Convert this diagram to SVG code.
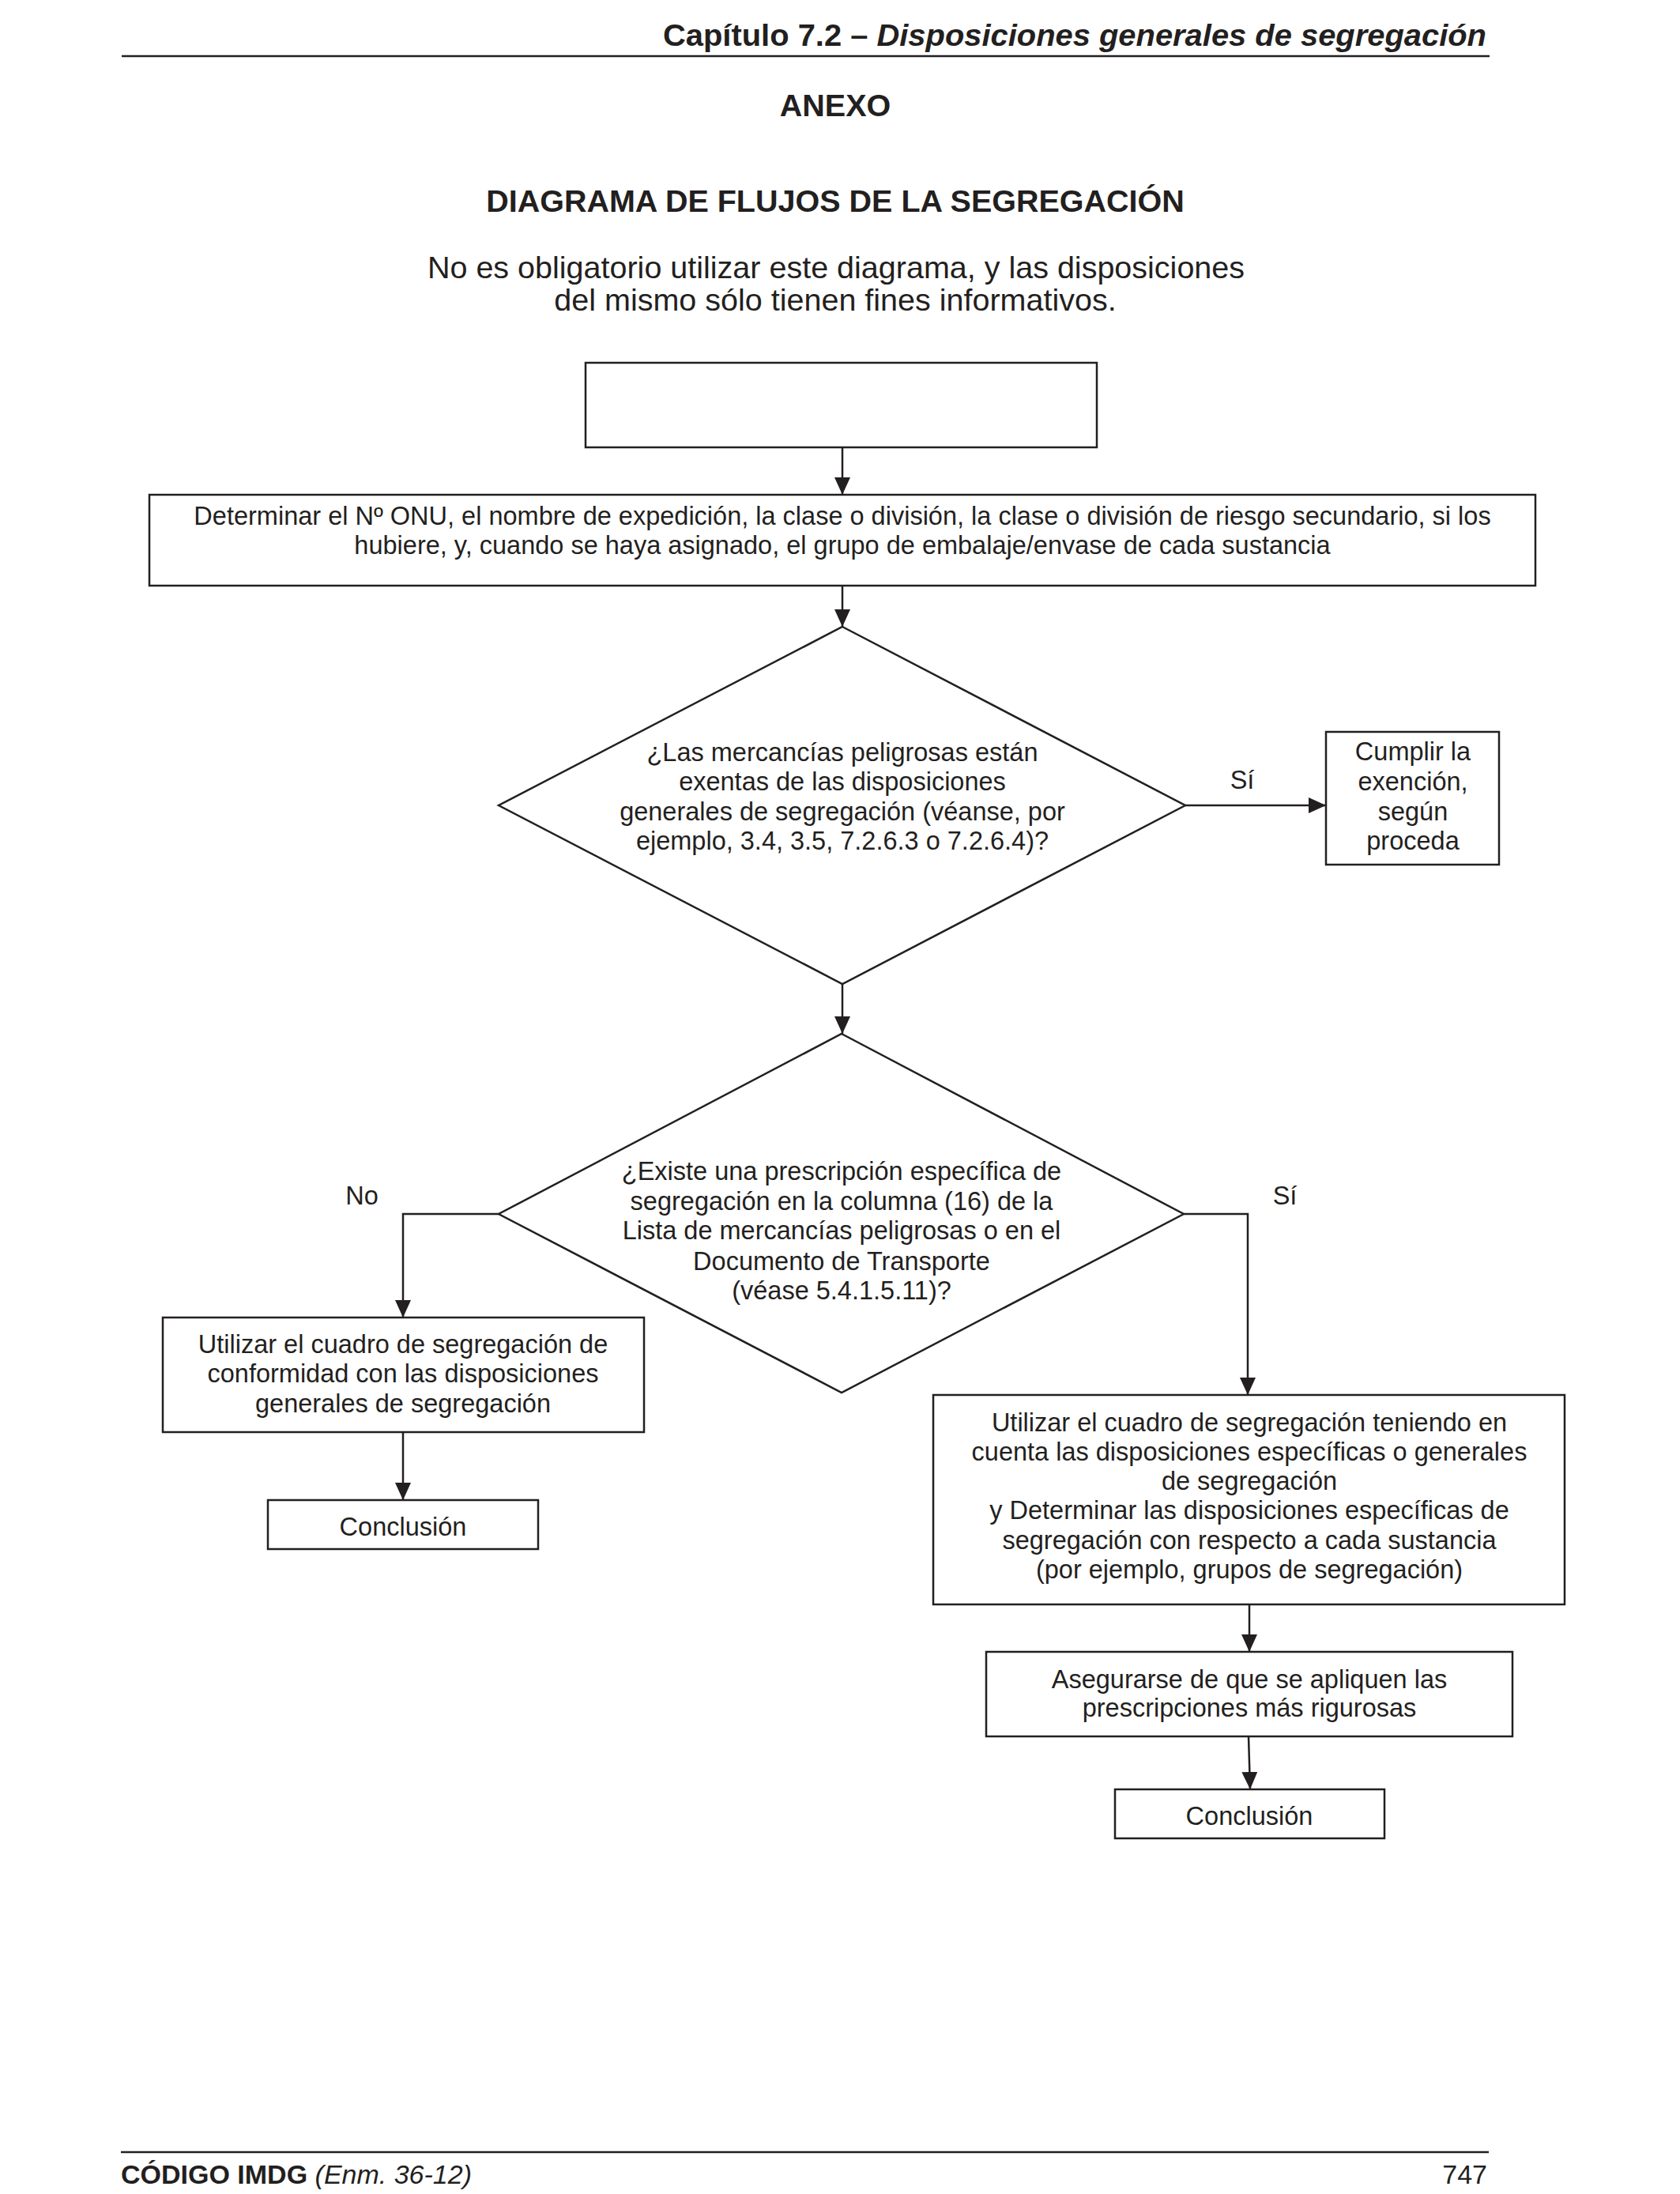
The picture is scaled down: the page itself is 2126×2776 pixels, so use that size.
<svg xmlns="http://www.w3.org/2000/svg" width="2126" height="2776" viewBox="0 0 2126 2776">
<style>
  text { font-family: "Liberation Sans", Arial, sans-serif; fill: #231f20; }
  .t { font-size: 32.5px; text-anchor: middle; }
  .box { fill: #ffffff; stroke: #231f20; stroke-width: 2.5; }
  .conn { fill: none; stroke: #231f20; stroke-width: 2.5; }
  .rule { stroke: #231f20; stroke-width: 2.5; }
  .h { font-weight: bold; text-anchor: middle; font-size: 39.5px; }
</style>
<defs>
  <marker id="ah" markerWidth="22" markerHeight="20" refX="22" refY="10" orient="auto" markerUnits="userSpaceOnUse">
    <path d="M0,0 L22,10 L0,20 z" fill="#231f20"/>
  </marker>
</defs>
<rect width="2126" height="2776" fill="#ffffff"/>

<g id="header">
  <text x="1881" y="58" font-size="38" font-weight="bold" text-anchor="end" textLength="1042" lengthAdjust="spacingAndGlyphs">Capítulo 7.2 – <tspan font-style="italic">Disposiciones generales de segregación</tspan></text>
  <line class="rule" x1="154" y1="71" x2="1885" y2="71"/>
  <text class="h" x="1057" y="147">ANEXO</text>
  <text class="h" x="1057" y="268">DIAGRAMA DE FLUJOS DE LA SEGREGACIÓN</text>
  <text x="1058" y="352" font-size="39.5" text-anchor="middle">No es obligatorio utilizar este diagrama, y las disposiciones</text>
  <text x="1057" y="393" font-size="39.5" text-anchor="middle">del mismo sólo tienen fines informativos.</text>
</g>

<g id="connectors">
  <line class="conn" x1="1066" y1="566" x2="1066" y2="626" marker-end="url(#ah)"/>
  <line class="conn" x1="1066" y1="741" x2="1066" y2="793" marker-end="url(#ah)"/>
  <line class="conn" x1="1500" y1="1019" x2="1678" y2="1019" stroke-width="4" marker-end="url(#ah)"/>
  <line class="conn" x1="1066" y1="1245" x2="1066" y2="1308" marker-end="url(#ah)"/>
  <polyline class="conn" points="631,1536 510,1536 510,1667" marker-end="url(#ah)"/>
  <polyline class="conn" points="1498,1536 1579,1536 1579,1765" marker-end="url(#ah)"/>
  <line class="conn" x1="510" y1="1812" x2="510" y2="1898" stroke-width="3.5" marker-end="url(#ah)"/>
  <line class="conn" x1="1581" y1="2030" x2="1581" y2="2090" stroke-width="3.5" marker-end="url(#ah)"/>
  <line class="conn" x1="1580" y1="2197" x2="1582" y2="2264" stroke-width="3.5" marker-end="url(#ah)"/>
  <text x="1626" y="1524" font-size="32.5" text-anchor="middle">Sí</text>
  <text x="458" y="1524" font-size="32.5" text-anchor="middle">No</text>
  <text x="1572" y="998" font-size="32.5" text-anchor="middle">Sí</text>
</g>

<g id="start">
  <rect class="box" x="741" y="459" width="647" height="107"/>
</g>

<g id="determinar">
  <rect class="box" x="189" y="626" width="1754" height="115"/>
  <text class="t" x="1066" y="664">Determinar el Nº ONU, el nombre de expedición, la clase o división, la clase o división de riesgo secundario, si los</text>
  <text class="t" x="1066" y="701">hubiere, y, cuando se haya asignado, el grupo de embalaje/envase de cada sustancia</text>
</g>

<g id="decision1">
  <polygon class="box" points="1066,793 1500,1019 1066,1245 631,1019"/>
  <text class="t" x="1066" y="963">¿Las mercancías peligrosas están</text>
  <text class="t" x="1066" y="1000">exentas de las disposiciones</text>
  <text class="t" x="1066" y="1038">generales de segregación (véanse, por</text>
  <text class="t" x="1066" y="1075">ejemplo, 3.4, 3.5, 7.2.6.3 o 7.2.6.4)?</text>
</g>

<g id="cumplir">
  <rect class="box" x="1678" y="926" width="219" height="168"/>
  <text class="t" x="1788" y="962">Cumplir la</text>
  <text class="t" x="1788" y="1000">exención,</text>
  <text class="t" x="1788" y="1038">según</text>
  <text class="t" x="1788" y="1075">proceda</text>
</g>

<g id="decision2">
  <polygon class="box" points="1065,1308 1498,1536 1065,1762 631,1536"/>
  <text class="t" x="1065" y="1493">¿Existe una prescripción específica de</text>
  <text class="t" x="1065" y="1531">segregación en la columna (16) de la</text>
  <text class="t" x="1065" y="1568">Lista de mercancías peligrosas o en el</text>
  <text class="t" x="1065" y="1607">Documento de Transporte</text>
  <text class="t" x="1065" y="1644">(véase 5.4.1.5.11)?</text>
</g>

<g id="general">
  <rect class="box" x="206" y="1667" width="609" height="145"/>
  <text class="t" x="510" y="1712">Utilizar el cuadro de segregación de</text>
  <text class="t" x="510" y="1749">conformidad con las disposiciones</text>
  <text class="t" x="510" y="1787">generales de segregación</text>
</g>

<g id="conclusion-left">
  <rect class="box" x="339" y="1898" width="342" height="62"/>
  <text class="t" x="510" y="1943">Conclusión</text>
</g>

<g id="especificas">
  <rect class="box" x="1181" y="1765" width="799" height="265"/>
  <text class="t" x="1581" y="1811">Utilizar el cuadro de segregación teniendo en</text>
  <text class="t" x="1581" y="1848">cuenta las disposiciones específicas o generales</text>
  <text class="t" x="1581" y="1885">de segregación</text>
  <text class="t" x="1581" y="1922">y Determinar las disposiciones específicas de</text>
  <text class="t" x="1581" y="1960">segregación con respecto a cada sustancia</text>
  <text class="t" x="1581" y="1997">(por ejemplo, grupos de segregación)</text>
</g>

<g id="asegurarse">
  <rect class="box" x="1248" y="2090" width="666" height="107"/>
  <text class="t" x="1581" y="2136">Asegurarse de que se apliquen las</text>
  <text class="t" x="1581" y="2172">prescripciones más rigurosas</text>
</g>

<g id="conclusion-right">
  <rect class="box" x="1411" y="2264" width="341" height="62"/>
  <text class="t" x="1581" y="2309">Conclusión</text>
</g>

<g id="footer">
  <line class="rule" x1="153" y1="2723" x2="1884" y2="2723"/>
  <text x="153" y="2763" font-size="34"><tspan font-weight="bold">CÓDIGO IMDG</tspan> <tspan font-style="italic">(Enm. 36-12)</tspan></text>
  <text x="1882" y="2763" font-size="34" text-anchor="end">747</text>
</g>
</svg>
